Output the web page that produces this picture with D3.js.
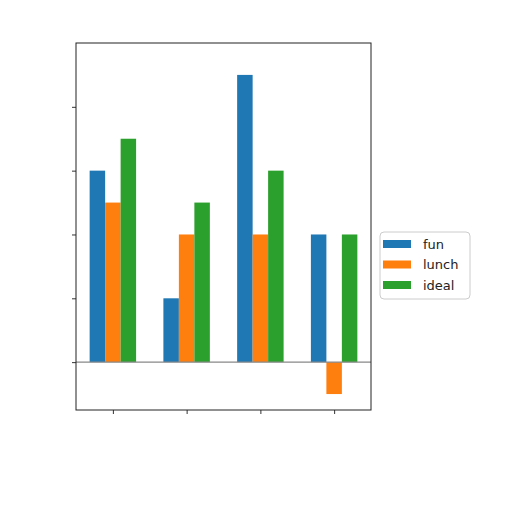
<!DOCTYPE html>
<meta charset="utf-8">
<style>
  body { margin: 0; background: #fff; }
  svg { display: block; font-family: "DejaVu Sans", sans-serif; }
</style>
<svg width="512" height="512"></svg>
<script src="https://cdn.jsdelivr.net/npm/d3@7"></script>
<script>

var groups = [0, 1, 2, 3];
var series = ["fun", "lunch", "ideal"];
var colors = ["#1f77b4", "#ff7f0e", "#2ca02c"];
var fun = [3, 1, 4.5, 2];
var lunch = [2.5, 2, 2, -0.5];
var ideal = [3.5, 2.5, 3, 2];
var yTicks = [0, 1, 2, 3, 4];

var values = [fun, lunch, ideal];

var svg = d3.select("svg"),
  margin = { top: 43, right: 141, bottom: 102, left: 76 },
  width = +svg.attr("width") - margin.left - margin.right,
  height = +svg.attr("height") - margin.top - margin.bottom,
  g = svg.append("g").attr("transform", "translate(" + margin.left + "," + margin.top + ")");

var x = d3.scaleLinear().domain([-0.5, 3.5]).range([0, width]);
var y = d3.scaleLinear().domain([-0.75, 5]).range([height, 0]);

// bar width in data units (each of the 3 bars)
var bw = 0.21;

var data = [];
series.forEach(function(s, i) {
  groups.forEach(function(gr, j) {
    data.push({ s: i, g: gr, v: values[i][j] });
  });
});

g.selectAll("rect.bar")
  .data(data)
  .enter().append("rect")
  .attr("class", "bar")
  .attr("x", function(d) { return x(d.g + (d.s - 1) * bw - bw / 2); })
  .attr("width", function(d) { return x(bw) - x(0); })
  .attr("y", function(d) { return y(Math.max(0, d.v)); })
  .attr("height", function(d) { return Math.abs(y(d.v) - y(0)); })
  .attr("fill", function(d) { return colors[d.s]; });

// zero line
g.append("line")
  .attr("x1", 0).attr("x2", width)
  .attr("y1", y(0)).attr("y2", y(0))
  .attr("stroke", "#888").attr("stroke-width", 1.2);

// axes (tick labels are not legible in the picture)
g.append("g")
  .attr("transform", "translate(0," + height + ")")
  .call(d3.axisBottom(x).tickValues(groups).tickFormat("").tickSize(4))
  .call(function(a) { a.select(".domain").remove(); });

g.append("g")
  .call(d3.axisLeft(y).tickValues(yTicks).tickFormat("").tickSize(4))
  .call(function(a) { a.select(".domain").remove(); });

g.selectAll(".tick line").attr("stroke", "#333");

// frame
g.append("rect")
  .attr("width", width).attr("height", height)
  .attr("fill", "none").attr("stroke", "#222").attr("stroke-width", 1);

// legend
var lg = svg.append("g").attr("transform", "translate(380,232)");
lg.append("rect")
  .attr("width", 90).attr("height", 67).attr("rx", 4)
  .attr("fill", "#fff").attr("stroke", "#ccc");

var item = lg.selectAll("g.item")
  .data(series)
  .enter().append("g")
  .attr("class", "item")
  .attr("transform", function(d, i) { return "translate(3," + (12 + i * 20.5) + ")"; });

item.append("rect")
  .attr("y", -4).attr("width", 28).attr("height", 8)
  .attr("fill", function(d, i) { return colors[i]; });

item.append("text")
  .attr("x", 40).attr("dy", "0.35em")
  .attr("font-size", 13)
  .attr("fill", "#222")
  .text(function(d) { return d; });

</script>
